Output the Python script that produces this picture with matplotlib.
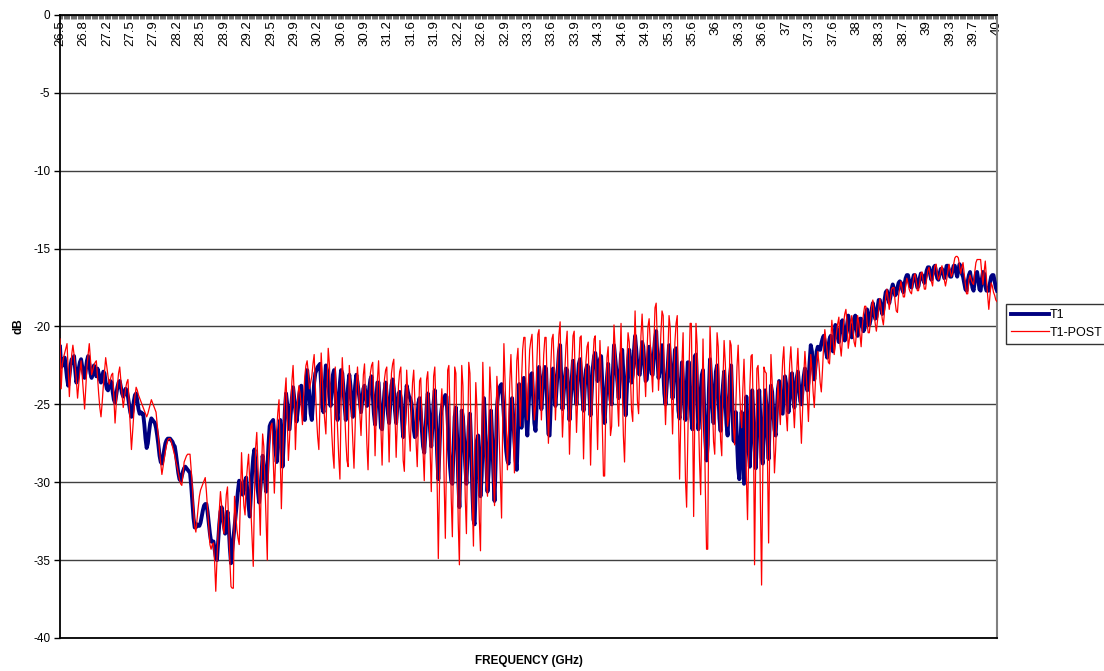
import numpy as np
import matplotlib
matplotlib.use("Agg")
import matplotlib.pyplot as plt

# category labels shown on the top axis (every 20th frequency point)
freq_labels = ['26.5', '26.8', '27.2', '27.5', '27.9', '28.2', '28.5', '28.9', '29.2', '29.5',
               '29.9', '30.2', '30.6', '30.9', '31.2', '31.6', '31.9', '32.2', '32.6', '32.9',
               '33.3', '33.6', '33.9', '34.3', '34.6', '34.9', '35.3', '35.6', '36', '36.3',
               '36.6', '37', '37.3', '37.6', '38', '38.3', '38.7', '39', '39.3', '39.7', '40']

# T1 (dB), 801 points 26.5 -> 40 GHz
t1 = [
    -21.3, -22.6, -22.5, -22.1, -22.0, -22.6, -23.3, -23.8, -23.2, -22.5,
    -22.1, -22.3, -21.9, -22.8, -23.6, -23.2, -22.7, -22.3, -22.1, -22.6,
    -23.0, -23.3, -22.8, -22.2, -21.9, -22.4, -23.0, -23.3, -22.8, -22.5,
    -22.9, -23.2, -22.7, -23.0, -23.4, -23.6, -23.2, -22.9, -23.0, -23.6,
    -24.0, -24.1, -23.8, -23.5, -23.6, -24.2, -24.7, -24.9, -24.4, -23.9,
    -23.6, -23.5, -23.9, -24.3, -24.5, -24.3, -24.0, -24.1, -24.5, -25.0,
    -25.5, -25.8, -25.4, -24.8, -24.4, -24.3, -24.8, -25.3, -25.6, -25.5,
    -25.6, -25.6, -26.3, -27.2, -27.8, -27.5, -26.8, -26.2, -25.9, -26.0,
    -26.1, -26.2, -26.5, -27.0, -27.6, -28.3, -28.7, -28.8, -28.4, -27.9,
    -27.5, -27.3, -27.2, -27.2, -27.2, -27.3, -27.4, -27.6, -27.7, -28.2,
    -28.8, -29.4, -29.8, -29.9, -29.6, -29.3, -29.1, -29.0, -29.1, -29.2,
    -29.3, -29.4, -30.2, -31.3, -32.3, -32.9, -32.9, -32.7, -32.8, -32.8,
    -32.6, -32.2, -31.8, -31.5, -31.4, -31.4, -31.9, -32.6, -33.3, -33.8,
    -33.8, -33.8, -34.3, -34.8, -35.0, -33.9, -32.7, -31.9, -31.6, -32.2,
    -32.8, -33.3, -32.6, -31.9, -32.8, -34.2, -35.2, -34.4, -33.6, -32.9,
    -32.1, -31.3, -30.5, -29.9, -30.1, -30.5, -30.8, -30.3, -29.9, -29.7,
    -30.6, -31.5, -32.2, -30.8, -29.4, -28.4, -27.9, -28.9, -29.9, -30.6,
    -31.3, -30.5, -29.5, -28.3, -29.0, -29.8, -30.6, -29.2, -27.6, -26.4,
    -26.2, -26.1, -26.0, -27.0, -28.0, -28.7, -27.6, -26.6, -26.0, -27.4,
    -29.0, -27.4, -25.4, -24.3, -25.0, -25.8, -26.6, -25.6, -24.6, -23.9,
    -24.6, -25.4, -26.1, -25.4, -24.6, -24.0, -23.8, -24.8, -25.6, -26.0,
    -24.5, -22.8, -23.5, -24.5, -25.6, -26.0, -24.9, -23.6, -23.0, -22.8,
    -22.6, -22.5, -22.4, -23.8, -25.2, -25.5, -23.8, -22.5, -22.8, -23.6,
    -24.5, -25.1, -24.0, -23.1, -22.8, -24.0, -25.3, -26.0, -24.8, -23.6,
    -22.8, -23.0, -24.0, -25.1, -26.0, -25.0, -23.8, -23.1, -23.8, -25.0,
    -25.8, -24.8, -23.8, -23.1, -23.6, -24.2, -24.8, -25.5, -24.8, -24.0,
    -23.8, -24.4, -25.1, -25.0, -24.0, -23.4, -23.2, -24.4, -25.6, -26.3,
    -24.8, -23.6, -23.6, -25.0, -26.5, -26.6, -25.3, -24.2, -23.6, -24.5,
    -25.6, -26.2, -25.0, -23.8, -23.4, -24.0, -25.4, -26.2, -25.2, -24.3,
    -24.2, -24.6, -26.0, -27.1, -26.2, -24.8, -23.8, -24.2, -24.5, -24.6,
    -24.9, -25.8, -26.6, -27.1, -27.0, -26.0, -24.9, -24.6, -25.5, -26.7,
    -27.7, -28.1, -26.8, -25.2, -24.3, -25.3, -26.7, -27.7, -26.4, -24.9,
    -24.1, -26.0, -28.2, -29.8, -27.8, -25.8, -25.2, -24.9, -24.6, -24.4,
    -24.5, -26.0, -27.8, -29.0, -29.9, -30.1, -27.8, -25.8, -25.2, -27.0,
    -29.8, -31.6, -28.5, -25.4, -25.8, -27.2, -28.9, -30.1, -28.2, -26.4,
    -25.6, -27.5, -30.4, -32.4, -32.7, -30.0, -27.3, -27.0, -28.9, -30.9,
    -29.6, -27.2, -24.6, -26.4, -28.7, -30.6, -29.2, -27.0, -25.4, -27.2,
    -29.4, -31.2, -28.6, -25.3, -24.4, -24.0, -23.8, -23.7, -24.5, -25.8,
    -26.9, -28.0, -28.6, -28.8, -27.0, -25.0, -24.6, -25.9, -27.4, -28.6,
    -29.2, -26.8, -23.7, -25.0, -26.5, -25.2, -23.3, -24.5, -26.0, -27.0,
    -25.3, -23.7, -23.1, -23.0, -24.6, -26.2, -26.7, -25.0, -23.5, -22.6,
    -23.7, -25.3, -24.2, -23.1, -22.6, -22.7, -25.0, -26.9, -27.0, -25.0,
    -23.3, -22.7, -23.8, -25.1, -23.9, -22.6, -21.6, -21.2, -23.5, -25.3,
    -24.3, -23.3, -22.7, -22.8, -24.4, -26.0, -24.8, -23.3, -22.2, -23.2,
    -24.2, -25.0, -23.5, -22.4, -22.1, -23.0, -24.4, -25.4, -24.0, -22.8,
    -22.5, -22.6, -24.4, -25.7, -24.2, -22.6, -21.9, -21.7, -22.4, -23.5,
    -22.9, -22.1, -21.9, -23.6, -25.4, -26.2, -24.6, -23.3, -22.4, -23.8,
    -24.7, -25.0, -23.1, -21.2, -22.0, -22.8, -23.6, -24.6, -23.2, -21.8,
    -21.5, -23.0, -24.6, -25.7, -24.0, -22.2, -21.5, -22.6, -23.6, -23.1,
    -21.6, -20.6, -21.5, -22.6, -23.0, -23.1, -22.0, -21.0, -21.3, -22.5,
    -23.5, -23.4, -22.1, -21.3, -22.0, -23.0, -23.1, -21.8, -20.8, -20.3,
    -21.9, -23.3, -22.9, -22.0, -21.2, -22.7, -24.3, -25.0, -23.8, -22.4,
    -21.2, -22.3, -23.6, -24.6, -23.0, -21.5, -21.4, -23.5, -25.4, -25.9,
    -23.8, -22.3, -23.6, -25.2, -26.0, -24.0, -22.3, -22.3, -24.0, -25.8,
    -26.6, -24.4, -21.9, -21.8, -24.2, -26.6, -25.7, -24.2, -23.1, -22.8,
    -25.3, -27.3, -28.6, -27.6, -24.1, -22.1, -23.5, -25.2, -26.2, -24.4,
    -22.9, -22.5, -24.2, -25.9, -26.7, -25.3, -23.8, -22.9, -24.5, -26.2,
    -27.0, -25.2, -23.2, -22.5, -24.8, -27.3, -27.4, -25.5, -27.3, -29.1,
    -29.8, -27.4, -25.5, -27.8, -30.1, -27.3, -24.5, -26.1, -28.0, -29.0,
    -26.5, -24.1, -25.6, -27.6, -29.1, -27.3, -25.5, -24.1, -26.0, -28.4,
    -28.8, -26.4, -24.1, -24.9, -27.0, -28.5, -26.0, -23.8, -24.2, -25.5,
    -26.6, -27.0, -25.4, -24.0, -23.5, -24.5, -25.5, -25.6, -24.2, -23.2,
    -23.7, -24.6, -25.5, -24.6, -23.1, -23.0, -24.3, -25.2, -24.3, -23.3,
    -22.9, -23.8, -24.8, -25.0, -24.0, -23.2, -22.7, -23.3, -24.1, -23.6,
    -22.3, -21.2, -21.6, -22.7, -23.4, -22.6, -21.6, -21.3, -21.4, -21.5,
    -21.1, -20.8, -20.6, -21.0, -21.6, -22.0, -21.3, -20.8, -20.6, -21.2,
    -21.6, -20.8, -19.9, -20.1, -20.6, -21.0, -20.4, -19.8, -19.6, -20.3,
    -20.9, -20.6, -19.9, -19.3, -19.8, -20.4, -20.7, -20.1, -19.5, -19.3,
    -20.1, -20.6, -20.0, -19.5, -19.5, -19.9, -20.3, -20.1, -19.3, -18.9,
    -19.4, -19.9, -19.6, -18.9, -18.5, -19.0, -19.5, -19.4, -18.8, -18.3,
    -18.3, -18.8, -19.2, -18.9, -18.3, -17.8, -17.7, -18.1, -18.5, -18.1,
    -17.6, -17.3, -17.6, -18.0, -17.9, -17.5, -17.2, -17.1, -17.2, -17.6,
    -17.8, -17.3, -16.9, -16.7, -16.7, -17.1, -17.4, -17.5, -17.0, -16.7,
    -16.7, -17.1, -17.5, -17.4, -16.9, -16.6, -16.7, -17.0, -17.2, -16.8,
    -16.4, -16.2, -16.2, -16.7, -17.0, -16.6, -16.2, -16.1, -16.5, -16.9,
    -17.0, -16.6, -16.3, -16.3, -16.6, -16.9, -16.5, -16.1, -16.1, -16.4,
    -16.8, -16.8, -16.4, -16.1, -16.1, -16.5, -16.8, -16.4, -16.0, -16.2,
    -16.6, -16.8, -17.2, -17.6, -17.7, -17.1, -16.7, -16.5, -17.0, -17.5,
    -17.7, -17.1, -16.6, -16.5, -17.0, -17.6, -17.7, -17.0, -16.5, -16.6,
    -17.4, -17.7, -17.7, -17.7, -17.2, -16.8, -16.7, -16.7, -17.1, -17.5,
    -17.7,
]

# T1-POST (dB), same frequency points
t1_post = [
    -20.8, -24.0, -22.4, -22.0, -21.7, -21.4, -21.1, -22.8, -24.5, -23.0,
    -21.8, -21.2, -21.8, -22.6, -23.5, -24.6, -23.7, -22.9, -22.2, -23.2,
    -24.3, -25.3, -24.0, -22.6, -21.8, -21.1, -22.1, -23.1, -22.8, -22.5,
    -22.3, -22.2, -23.2, -24.3, -25.2, -25.8, -24.9, -23.8, -22.9, -22.0,
    -22.6, -23.2, -23.7, -23.4, -23.1, -23.0, -24.6, -26.2, -25.0, -23.8,
    -23.0, -22.6, -23.5, -24.4, -25.2, -24.6, -24.0, -23.6, -23.4, -24.9,
    -26.4, -27.9, -26.8, -25.6, -24.5, -23.9, -24.1, -24.4, -24.6, -24.8,
    -25.0, -25.2, -25.4, -25.6, -25.8, -25.6, -25.3, -25.0, -24.7, -24.9,
    -25.1, -25.3, -25.5, -26.3, -27.1, -28.0, -28.8, -29.5, -29.0, -28.5,
    -28.0, -27.6, -27.3, -27.2, -27.2, -27.4, -27.7, -28.0, -28.3, -28.7,
    -29.0, -29.4, -29.8, -30.1, -30.2, -29.5, -28.7, -28.5, -28.3, -28.2,
    -28.2, -28.2, -29.2, -30.3, -31.7, -32.8, -33.2, -32.4, -31.6, -30.9,
    -30.5, -30.3, -30.1, -29.9, -29.7, -30.6, -31.7, -32.9, -34.0, -34.3,
    -34.0, -33.9, -35.1, -37.0, -35.0, -33.2, -31.8, -30.6, -31.5, -32.8,
    -33.3, -32.0, -30.8, -30.3, -32.6, -35.0, -36.7, -36.8, -36.8, -30.9,
    -32.0, -33.0, -33.6, -34.0, -31.2, -28.1, -30.0, -31.5, -32.1, -30.0,
    -29.0, -28.2, -30.0, -31.8, -33.5, -35.4, -31.0, -27.8, -26.8, -28.9,
    -31.0, -33.4, -29.3, -26.9, -27.7, -30.2, -32.6, -35.0, -28.4, -27.3,
    -26.4, -26.2, -28.4, -30.7, -28.6, -26.6, -25.5, -24.7, -28.3, -31.7,
    -29.0, -26.2, -24.3, -23.3, -25.9, -28.6, -27.2, -25.2, -23.5, -22.5,
    -24.5, -27.9, -25.8, -24.5, -23.8, -24.3, -25.2, -26.3, -24.5, -23.2,
    -22.5, -22.2, -23.0, -24.0, -23.6, -23.2, -22.4, -21.8, -23.8, -25.8,
    -27.1, -27.9, -24.8, -21.7, -23.3, -25.0, -26.0, -26.9, -24.0, -21.4,
    -22.4, -24.8, -26.8, -28.2, -29.1, -22.6, -24.5, -26.6, -28.4, -29.8,
    -25.0, -22.0, -23.6, -25.3, -27.2, -28.6, -29.0, -22.5, -23.8, -25.5,
    -27.4, -29.1, -26.5, -23.8, -22.6, -24.0, -25.6, -27.0, -25.0, -23.1,
    -22.4, -24.8, -27.5, -29.2, -26.0, -23.0, -22.5, -22.3, -25.0, -28.3,
    -25.6, -23.4, -22.2, -24.2, -26.6, -28.9, -26.0, -23.4, -22.8, -22.6,
    -25.8, -28.7, -25.4, -23.0, -22.4, -22.1, -25.6, -28.4, -26.0, -23.8,
    -22.9, -22.6, -25.3, -28.6, -29.3, -26.0, -22.8, -24.4, -26.7, -28.0,
    -25.4, -23.6, -22.8, -24.8, -27.4, -29.0, -26.3, -23.5, -23.3, -25.6,
    -28.1, -29.9, -26.5, -23.4, -22.9, -25.2, -28.0, -30.6, -27.0, -23.2,
    -22.6, -25.2, -30.2, -34.9, -30.0, -25.4, -24.0, -25.6, -30.0, -33.6,
    -28.1, -22.8, -22.5, -25.6, -31.0, -33.5, -28.2, -22.6, -23.0, -27.8,
    -32.6, -35.3, -28.0, -22.5, -23.8, -27.4, -31.0, -33.3, -27.6, -22.3,
    -23.0, -27.2, -31.2, -34.1, -28.0, -23.6, -25.3, -29.0, -32.4, -34.4,
    -27.9, -22.3, -25.2, -28.0, -30.0, -30.9, -26.5, -22.6, -24.3, -27.3,
    -29.8, -31.5, -27.8, -23.2, -24.6, -27.2, -29.8, -32.3, -26.0, -21.1,
    -23.5, -26.4, -29.2, -26.5, -23.6, -21.8, -24.2, -26.9, -29.4, -25.4,
    -22.2, -21.4, -24.0, -26.4, -23.6, -21.5, -20.7, -20.7, -24.0, -26.0,
    -23.4, -21.5, -20.9, -20.5, -23.3, -26.0, -25.1, -22.6, -20.5, -20.2,
    -23.4, -26.0, -23.8, -21.8, -20.7, -20.7, -24.2, -27.5, -25.0, -22.6,
    -20.8, -20.5, -22.8, -26.0, -24.0, -22.0, -20.5, -19.7, -24.0, -27.1,
    -25.2, -22.9, -21.2, -20.3, -24.3, -28.2, -25.5, -22.6, -20.6, -20.3,
    -24.0, -26.8, -24.6, -22.4, -20.7, -20.6, -24.6, -28.5, -25.2, -22.3,
    -21.3, -21.0, -25.1, -28.9, -25.4, -22.2, -20.8, -20.6, -24.9, -27.9,
    -24.2, -20.9, -23.0, -26.3, -29.6, -29.6, -25.0, -22.0, -21.3, -24.2,
    -27.0, -26.4, -22.8, -19.9, -21.4, -23.2, -24.8, -26.4, -22.5, -19.8,
    -23.8, -27.0, -28.7, -25.4, -22.2, -20.4, -21.0, -23.2, -25.4, -26.1,
    -22.0, -19.0, -22.0, -24.8, -25.6, -22.9, -20.6, -19.2, -21.0, -22.9,
    -24.5, -22.0, -20.0, -19.5, -21.2, -22.8, -24.2, -21.3, -18.8, -18.5,
    -21.0, -24.1, -22.5, -20.5, -19.0, -19.3, -24.0, -26.3, -24.1, -21.6,
    -19.3, -20.1, -24.2, -26.9, -24.0, -21.0, -19.8, -19.3, -25.5, -29.8,
    -26.0, -22.4, -20.4, -25.6, -29.8, -31.6, -27.4, -23.0, -19.8, -19.8,
    -25.0, -32.2, -25.5, -19.8, -21.2, -25.3, -28.6, -30.8, -25.6, -20.8,
    -25.2, -30.5, -34.3, -34.3, -25.0, -20.0, -22.2, -25.0, -27.4, -28.2,
    -24.2, -20.4, -21.3, -24.5, -27.3, -28.3, -23.6, -20.9, -22.3, -24.3,
    -26.4, -25.8, -20.9, -21.2, -23.4, -26.5, -27.6, -25.0, -22.6, -21.2,
    -23.6, -25.5, -26.5, -24.0, -22.1, -24.8, -29.6, -32.4, -28.0, -23.9,
    -21.9, -21.8, -26.2, -35.3, -28.4, -22.7, -22.5, -24.3, -31.3, -36.6,
    -29.4, -22.6, -22.9, -23.0, -28.5, -33.9, -27.3, -21.8, -23.5, -26.4,
    -29.4, -27.9, -25.6, -23.5, -25.1, -26.3, -24.0, -22.2, -21.3, -23.6,
    -25.6, -26.7, -24.3, -22.4, -21.3, -22.8, -25.0, -26.5, -24.8, -22.9,
    -21.4, -23.5, -25.6, -27.5, -25.4, -23.2, -21.6, -22.8, -24.5, -26.1,
    -24.0, -21.8, -22.8, -24.2, -25.2, -23.5, -22.3, -21.6, -22.4, -23.6,
    -24.2, -22.8, -21.2, -20.2, -20.9, -21.6, -22.3, -22.4, -21.0, -19.6,
    -20.7, -21.8, -21.1, -20.4, -19.8, -19.4, -21.2, -21.9, -20.8, -19.8,
    -19.2, -18.9, -19.8, -21.4, -20.8, -19.8, -19.3, -20.2, -21.0, -21.3,
    -20.4, -19.3, -19.8, -20.5, -21.3, -20.0, -19.2, -18.7, -18.7, -19.7,
    -20.4, -20.4, -19.6, -18.7, -18.3, -19.1, -19.8, -20.3, -19.6, -18.9,
    -18.2, -18.8, -19.5, -19.9, -19.0, -18.1, -17.6, -18.2, -18.9, -18.2,
    -17.6, -17.5, -17.5, -18.4, -19.0, -19.1, -18.0, -17.5, -17.1, -17.6,
    -18.1, -18.1, -17.4, -16.9, -17.2, -17.6, -17.8, -17.9, -17.3, -16.8,
    -16.6, -17.1, -17.7, -17.7, -17.2, -16.6, -16.5, -17.1, -17.6, -17.6,
    -16.9, -16.4, -16.2, -16.7, -17.1, -17.4, -16.6, -16.1, -16.0, -16.6,
    -17.0, -16.8, -16.4, -16.1, -16.5, -17.0, -17.4, -17.0, -16.5, -16.0,
    -16.4, -16.8, -16.6, -16.0, -15.6, -15.5, -15.5, -15.6, -16.1, -16.6,
    -16.2, -15.9, -16.6, -17.3, -17.9, -17.9, -17.0, -16.7, -17.0, -17.2,
    -17.3, -16.5, -15.9, -15.7, -15.7, -15.7, -15.7, -16.6, -17.3, -16.5,
    -15.8, -16.9, -18.0, -18.9, -18.0, -17.2, -17.4, -17.8, -18.0, -18.3,
    -18.4,
]

plt.rcParams['font.family'] = ['Liberation Sans', 'DejaVu Sans']
plt.rcParams['axes.unicode_minus'] = False

n = len(t1)
x = np.arange(n)

fig = plt.figure(figsize=(11.04, 6.71), dpi=100)
ax = fig.add_axes([60 / 1104, 1 - 638 / 671, 937 / 1104, 623 / 671])

ax.plot(x, t1, color='#000080', lw=2.8, label='T1', zorder=3)
ax.plot(x, t1_post, color='#ff0000', lw=0.9, label='T1-POST', zorder=4)

ax.set_xlim(0, n - 1)
ax.set_ylim(-40, 0)
ax.set_yticks(np.arange(-40, 1, 5))
ax.yaxis.grid(True, color='#404040', lw=1.0)
ax.set_axisbelow(True)

# x categories on the top axis, labels hanging down inside the plot
ax.set_xticks(np.arange(0, n, 20))
ax.set_xticklabels(freq_labels)
ax.set_xticks(np.arange(n), minor=True)
ax.tick_params(axis='x', which='both', bottom=False, top=True, labelbottom=False,
               labeltop=True, direction='in', color='#303030')
ax.tick_params(axis='x', which='major', length=3, width=0.6, pad=-3.5,
               labelsize=9.5, labelrotation=90)
ax.tick_params(axis='x', which='minor', length=3, width=0.5)
for lbl in ax.get_xticklabels():
    lbl.set_verticalalignment('top')

ax.tick_params(axis='y', direction='out', length=4, width=1, labelsize=8.5, pad=3)

for side in ['top', 'bottom', 'left']:
    ax.spines[side].set_color('black')
    ax.spines[side].set_linewidth(1.3)
ax.spines['right'].set_color('#808080')
ax.spines['right'].set_linewidth(1.5)

ax.xaxis.set_label_position('bottom')
ax.set_xlabel('FREQUENCY (GHz)', fontsize=8.5, fontweight='bold', labelpad=12)
ax.set_ylabel('dB', fontsize=8.5, fontweight='bold', labelpad=6)

leg = ax.legend(loc='upper left', bbox_to_anchor=(1006 / 1104, 1 - 304 / 671),
                bbox_transform=fig.transFigure, fontsize=9, frameon=True,
                fancybox=False, edgecolor='black', borderaxespad=0,
                handlelength=3.0, handletextpad=0.1, labelspacing=0.45,
                borderpad=0.4)
leg.get_frame().set_linewidth(1.0)

fig.savefig('out.png', dpi=100)
